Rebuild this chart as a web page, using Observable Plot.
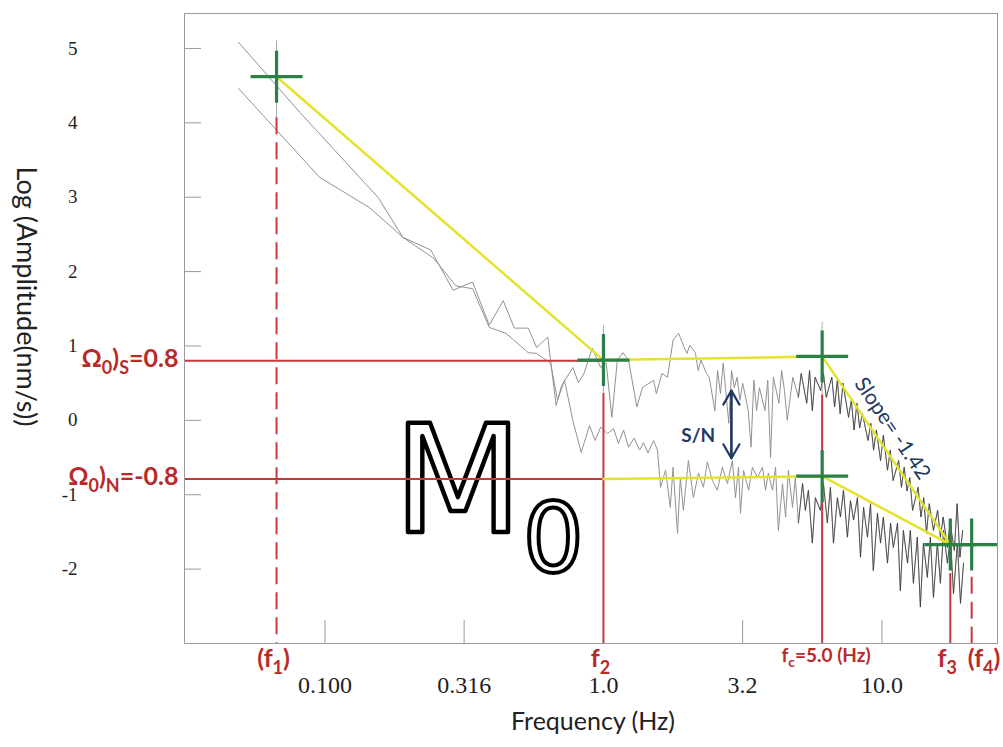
<!DOCTYPE html>
<html>
<head>
<meta charset="utf-8">
<script src="https://cdn.jsdelivr.net/npm/d3@7"></script>
<script src="https://cdn.jsdelivr.net/npm/@observablehq/plot@0.6"></script>
<style>
  html, body { margin: 0; padding: 0; background: #fff; }
  #chart { width: 1003px; height: 747px; overflow: hidden; }
</style>
</head>
<body>
<div id="chart"></div>
<script>
// ---------- axes ----------
const xDomain = [0.0313, 26.0];            // Hz (log axis)
const yDomain = [-3.0, 5.47];              // log amplitude
const xTicks = [0.1, 0.316, 1.0, 3.16, 10.0];
const xTickLabels = ["0.100", "0.316", "1.0", "3.2", "10.0"];
const yTicks = [5, 4, 3, 2, 1, 0, -1, -2];
const yTickLabels = ["5", "4", "3", "2", "1", "0", "-1", "-2"];

// ---------- spectra: [log10 frequency, log amplitude] ----------
const signalSpectrum = [
  [-1.31,5.08],[-1.09,4.14],[-0.81,3.00],[-0.72,2.46],[-0.62,2.29],[-0.54,1.75],[-0.47,1.86],[-0.41,1.28],
  [-0.36,1.61],[-0.32,1.24],[-0.27,1.24],[-0.24,0.98],[-0.20,1.12],[-0.19,0.81],[-0.17,0.20],[-0.15,0.47],
  [-0.11,0.71],[-0.09,0.51],[-0.07,0.63],[-0.04,0.97],[-0.01,0.71],[0.01,0.77],[0.03,0.04],[0.05,0.81],
  [0.07,0.91],[0.09,0.81],[0.12,0.18],[0.14,0.44],[0.18,0.54],[0.19,0.36],[0.21,0.63],[0.23,0.58],
  [0.25,1.08],[0.27,1.17],[0.29,0.98],[0.30,0.90],[0.31,1.01],[0.33,0.91],[0.34,0.67],[0.35,0.81],
  [0.37,0.63],[0.38,0.58],[0.40,0.13],[0.41,0.67],[0.42,0.36],[0.43,0.77],[0.45,-0.04],[0.46,0.67],
  [0.47,0.44],[0.48,0.58],[0.49,0.27],[0.50,0.50],[0.52,0.13],[0.53,-0.36],[0.54,0.54],[0.55,0.13],
  [0.56,0.44],[0.58,0.13],[0.59,0.54],[0.60,-0.50],[0.61,0.58],[0.63,0.23],[0.64,0.67],[0.65,0.40],
  [0.66,0.00],[0.68,0.58],[0.70,0.31],[0.71,0.63],[0.73,0.23],[0.74,0.67],[0.75,0.13],[0.76,0.58],
  [0.78,0.40],[0.79,0.63],[0.80,0.31],[0.82,0.58],[0.83,0.18],[0.84,0.54],[0.85,0.09],[0.86,0.50],
  [0.88,0.04],[0.89,0.27],[0.90,-0.13],[0.91,0.23],[0.92,-0.10],[0.93,0.09],[0.95,-0.27],[0.96,-0.04],
  [0.97,-0.40],[0.98,-0.13],[0.995,-0.54],[1.005,-0.20],[1.02,-0.67],[1.03,-0.40],[1.04,-0.81],[1.06,-0.54],
  [1.07,-0.90],[1.08,-0.63],[1.09,-0.95],[1.10,-0.77],[1.11,-1.21],[1.13,-0.90],[1.14,-1.30],[1.15,-1.04],
  [1.16,-1.52],[1.17,-1.12],[1.185,-1.48],[1.20,-1.21],[1.21,-1.57],[1.22,-1.30],[1.235,-1.71],[1.245,-1.38],
  [1.26,-1.75],[1.27,-1.12],[1.28,-1.84],[1.29,-1.48]
];
const noiseSpectrum = [
  [-1.31,4.46],[-1.02,3.27],[-0.84,2.86],[-0.72,2.46],[-0.61,2.18],[-0.53,1.81],[-0.47,1.77],[-0.41,1.25],
  [-0.35,1.17],[-0.27,0.91],[-0.24,0.90],[-0.19,0.77],[-0.165,0.27],[-0.14,0.54],[-0.11,0.00],[-0.08,-0.43],
  [-0.05,-0.07],[-0.03,-0.27],[-0.01,-0.09],[0.014,-0.18],[0.036,-0.11],[0.054,-0.31],[0.072,-0.13],[0.09,-0.36],
  [0.11,-0.24],[0.13,-0.40],[0.144,-0.30],[0.16,-0.44],[0.18,-0.27],[0.194,-0.40],[0.205,-0.90],[0.223,-0.67],
  [0.24,-1.17],[0.25,-0.63],[0.266,-1.52],[0.276,-0.77],[0.287,-1.21],[0.305,-0.54],[0.323,-1.04],[0.341,-0.71],
  [0.359,-0.90],[0.373,-0.56],[0.391,-0.81],[0.409,-0.94],[0.427,-0.63],[0.445,-0.85],[0.463,-0.54],[0.474,-1.04],
  [0.485,-0.63],[0.492,-1.25],[0.503,-0.67],[0.521,-0.94],[0.535,-0.63],[0.553,-0.77],[0.571,-0.63],[0.582,-0.94],
  [0.592,-0.71],[0.607,-0.94],[0.618,-0.63],[0.628,-1.48],[0.643,-0.85],[0.654,-1.30],[0.664,-0.67],[0.679,-1.17],
  [0.689,-0.77],[0.700,-1.38],[0.715,-0.85],[0.725,-1.21],[0.736,-0.94],[0.750,-1.65],[0.761,-1.04],[0.779,-1.21],
  [0.790,-0.85],[0.804,-1.38],[0.815,-0.90],[0.826,-1.65],[0.840,-1.04],[0.851,-1.30],[0.862,-0.94],[0.876,-1.57],
  [0.887,-1.08],[0.898,-1.34],[0.912,-1.04],[0.923,-1.84],[0.934,-1.17],[0.948,-1.57],[0.959,-1.12],[0.969,-2.02],
  [0.984,-1.25],[0.995,-1.65],[1.005,-1.30],[1.020,-1.92],[1.031,-1.38],[1.041,-1.71],[1.056,-1.38],[1.066,-2.29],
  [1.077,-1.48],[1.092,-1.92],[1.102,-1.48],[1.113,-2.19],[1.127,-1.57],[1.138,-2.51],[1.149,-1.65],[1.163,-2.11],
  [1.174,-1.57],[1.185,-2.38],[1.199,-1.65],[1.210,-2.19],[1.221,-1.48],[1.235,-1.92],[1.246,-1.57],[1.257,-2.33],
  [1.271,-1.65],[1.282,-2.46],[1.293,-1.92]
];

// ---------- fitted source model (yellow) ----------
const signalModel = [{f: 0.067, v: 4.62}, {f: 1.0, v: 0.81}, {f: 6.1, v: 0.86}, {f: 17.6, v: -1.67}];
const noiseModel  = [{f: 1.0, v: -0.79}, {f: 6.1, v: -0.75}, {f: 17.6, v: -1.67}];
const crossPoints = [
  {f: 0.067, v: 4.62}, {f: 1.0, v: 0.81}, {f: 6.1, v: 0.86},
  {f: 6.1, v: -0.75}, {f: 17.6, v: -1.67}, {f: 21.0, v: -1.67}
];

// ---------- red annotation lines ----------
const omegaLevels = [{label: "Ω_0)_S=0.8", v: 0.8, fEnd: 1.0}, {label: "Ω_0)_N=-0.8", v: -0.79, fEnd: 1.0}];
const solidCorners  = [{f: 1.0, top: 0.36}, {f: 6.1, top: 0.34}, {f: 17.6, top: -2.06}];
const dashedCorners = [{f: 0.067, top: 4.07}, {f: 21.0, top: -2.11}];
const guideLines    = [{f: 0.067, top: 5.1, bottom: 4.07}, {f: 1.0, top: 1.27, bottom: 0.36}, {f: 6.1, top: 1.32, bottom: 0.34}];
const cornerLabels  = [{label: "(f_1)", f: 0.067}, {label: "f_2", f: 1.0}, {label: "f_3", f: 17.6}];
const fcLabel = [{label: "f_c=5.0 (Hz)", f: 6.1}];
const f4Label = [{label: "(f_4)", f: 21.0}];

// ---------- other notes ----------
const snArrow = [{f: 2.88, high: 0.40, low: -0.51}];
const snNote = [{label: "S/N", f: 2.19, v: -0.215}];
const slopeNote = [{label: "Slope= -1.42", f: 10.9, v: -0.11}];
const m0Main = [{part: "M", f: 0.30, v: -1.50}];
const m0Sub  = [{part: "0", f: 0.66, v: -2.04}];
const xTitle = ["Frequency (Hz)"];
const yTitle = ["Log (Amplitude(nm/s))"];

// ---------- build ----------
const toRows = (arr) => arr.map(([lf, v]) => ({f: Math.pow(10, lf), v}));
const signalRows = toRows(signalSpectrum);
const noiseRows = toRows(noiseSpectrum);

const RED = "#c83838", RED_TEXT = "#b82a2a", GREEN = "#2b8046", YELLOW = "#e3e32c", NAVY = "#1f3a63", GRAY = "#9a9a9a";
const crossSymbol = {
  draw(context, size) {
    const r = Math.sqrt(size / Math.PI);
    context.moveTo(-r, 0); context.lineTo(r, 0);
    context.moveTo(0, -r); context.lineTo(0, r);
  }
};
const frameW = 1003 - 184 - 6, frameH = 747 - 13 - 104;
const SERIF = "'Liberation Serif', 'Times New Roman', serif";
const SANS = "Lato, 'Open Sans', sans-serif";

const plot = Plot.plot({
  width: 1003,
  height: 747,
  marginLeft: 184,
  marginRight: 6,
  marginTop: 13,
  marginBottom: 104,
  style: {background: "white", fontFamily: SERIF, fontSize: "18px"},
  x: {type: "log", domain: xDomain},
  y: {domain: yDomain},
  marks: [
    Plot.axisX({ticks: xTicks, tickFormat: d => xTickLabels[xTicks.indexOf(d)], tickSize: 0, tickPadding: 32,
      fontSize: 24, fontFamily: SERIF, color: "#1e1e1e", label: null}),
    Plot.axisY({ticks: yTicks, tickFormat: d => yTickLabels[yTicks.indexOf(d)], tickSize: 0, tickPadding: 107,
      fontSize: 19, fontFamily: SERIF, color: "#1e1e1e", label: null}),
    Plot.tickY(yTicks, {y: d => d, insetRight: frameW - 17, stroke: GRAY}),
    Plot.tickX(xTicks, {x: d => d, insetTop: frameH - 23, stroke: GRAY}),
    // M0 outlined label
    Plot.text(m0Main, {x: "f", y: "v", text: "part", fontSize: 150, fontFamily: "DejaVu Sans",
      fill: "white", stroke: "black", strokeWidth: 4.5, paintOrder: "normal", textAnchor: "middle", lineAnchor: "bottom"}),
    Plot.text(m0Sub, {x: "f", y: "v", text: "part", fontSize: 96, fontFamily: "DejaVu Sans",
      fill: "white", stroke: "black", strokeWidth: 4, paintOrder: "normal", textAnchor: "middle", lineAnchor: "bottom"}),
    // spectra (light base, darker where dense)
    Plot.line(noiseRows, {x: "f", y: "v", stroke: "#929292", strokeWidth: 1}),
    Plot.line(signalRows, {x: "f", y: "v", stroke: "#929292", strokeWidth: 1}),
    Plot.line(noiseRows, {filter: d => d.f > 5, x: "f", y: "v", stroke: "#2a2a2a", strokeOpacity: 0.6, strokeWidth: 1}),
    Plot.line(signalRows, {filter: d => d.f > 5, x: "f", y: "v", stroke: "#2a2a2a", strokeOpacity: 0.6, strokeWidth: 1}),
    // guides and red lines
    Plot.ruleX(guideLines, {x: "f", y1: "top", y2: "bottom", stroke: "#aaaaaa", strokeWidth: 1}),
    Plot.ruleY(omegaLevels, {y: "v", x1: () => xDomain[0], x2: "fEnd", stroke: RED, strokeWidth: 2}),
    Plot.ruleX(solidCorners, {x: "f", y1: "top", y2: () => yDomain[0], stroke: RED, strokeWidth: 2}),
    Plot.ruleX(dashedCorners, {x: "f", y1: "top", y2: () => yDomain[0], stroke: RED, strokeWidth: 2, strokeDasharray: "17,8"}),
    // yellow model
    Plot.line(signalModel, {x: "f", y: "v", stroke: YELLOW, strokeWidth: 2.5}),
    Plot.line(noiseModel, {x: "f", y: "v", stroke: YELLOW, strokeWidth: 2.5}),
    // green crosses
    Plot.dot(crossPoints, {x: "f", y: "v", symbol: crossSymbol, r: 26, stroke: GREEN, strokeWidth: 3.2, fill: "none"}),
    // S/N arrow
    Plot.arrow(snArrow, {x1: "f", x2: "f", y1: "low", y2: "high", stroke: NAVY, strokeWidth: 2.2, headLength: 11}),
    Plot.arrow(snArrow, {x1: "f", x2: "f", y1: "high", y2: "low", stroke: NAVY, strokeWidth: 2.2, headLength: 11}),
    Plot.text(snNote, {x: "f", y: "v", text: "label", fill: NAVY, fontSize: 19, fontWeight: "bold", fontFamily: SANS}),
    Plot.text(slopeNote, {x: "f", y: "v", text: "label", fill: NAVY, fontSize: 21, fontFamily: SANS, rotate: 56}),
    // red labels
    Plot.text(omegaLevels, {y: "v", text: "label", frameAnchor: "left", textAnchor: "end", dx: -6, dy: -2,
      fill: RED_TEXT, fontSize: 25, fontWeight: "bold", fontFamily: SANS}),
    Plot.text(cornerLabels, {x: "f", text: "label", frameAnchor: "bottom", textAnchor: "middle", dx: -3, dy: 23,
      fill: RED_TEXT, fontSize: 25, fontWeight: "bold", fontFamily: SANS}),
    Plot.text(fcLabel, {x: "f", text: "label", frameAnchor: "bottom", textAnchor: "middle", dx: 4, dy: 18,
      fill: RED_TEXT, fontSize: 19, fontWeight: "bold", fontFamily: "'Liberation Sans Narrow', " + SANS}),
    Plot.text(f4Label, {x: "f", text: "label", frameAnchor: "bottom", dy: 23, dx: -4, textAnchor: "start",
      fill: RED_TEXT, fontSize: 25, fontWeight: "bold", fontFamily: SANS}),
    // axis titles
    Plot.text(xTitle, {text: d => d, frameAnchor: "bottom", textAnchor: "middle", dx: 2, dy: 86, lineAnchor: "bottom",
      fill: "#222", fontSize: 25, fontFamily: SANS}),
    Plot.text(yTitle, {text: d => d, frameAnchor: "left", textAnchor: "middle", lineAnchor: "middle", rotate: 90, dx: -159, dy: -32,
      fill: "#222", fontSize: 27, fontFamily: SANS}),
    Plot.frame({stroke: GRAY, strokeWidth: 1})
  ]
});

document.getElementById("chart").appendChild(plot);

// Enforce tick label typography (serif, sizes as in the reference)
plot.querySelectorAll("text").forEach(t => {
  const axisGroup = t.closest("[aria-label*='axis']");
  if (!axisGroup) return;
  const label = axisGroup.getAttribute("aria-label");
  if (label.startsWith("x-axis")) {
    t.style.fontFamily = SERIF; t.style.fontSize = "24px";
  } else if (label.startsWith("y-axis")) {
    t.style.fontFamily = SERIF; t.style.fontSize = "19px";
  }
});

// Turn "_x" markup into real subscripts
function applySubscripts(root) {
  const ns = "http://www.w3.org/2000/svg";
  root.querySelectorAll("text").forEach(el => {
    const t = el.textContent;
    if (!t.includes("_")) return;
    const fs = parseFloat(getComputedStyle(el).fontSize) || 20;
    const parts = t.split(/(_.)/).filter(p => p);
    while (el.firstChild) el.removeChild(el.firstChild);
    let down = false;
    for (const p of parts) {
      const ts = document.createElementNS(ns, "tspan");
      if (p[0] === "_") {
        ts.textContent = p.slice(1);
        ts.setAttribute("font-size", (fs * 0.72) + "px");
        if (!down) { ts.setAttribute("dy", String(fs * 0.28)); down = true; }
      } else {
        ts.textContent = p;
        if (down) { ts.setAttribute("dy", String(-fs * 0.28)); down = false; }
      }
      el.appendChild(ts);
    }
  });
}
applySubscripts(plot);
</script>
</body>
</html>
